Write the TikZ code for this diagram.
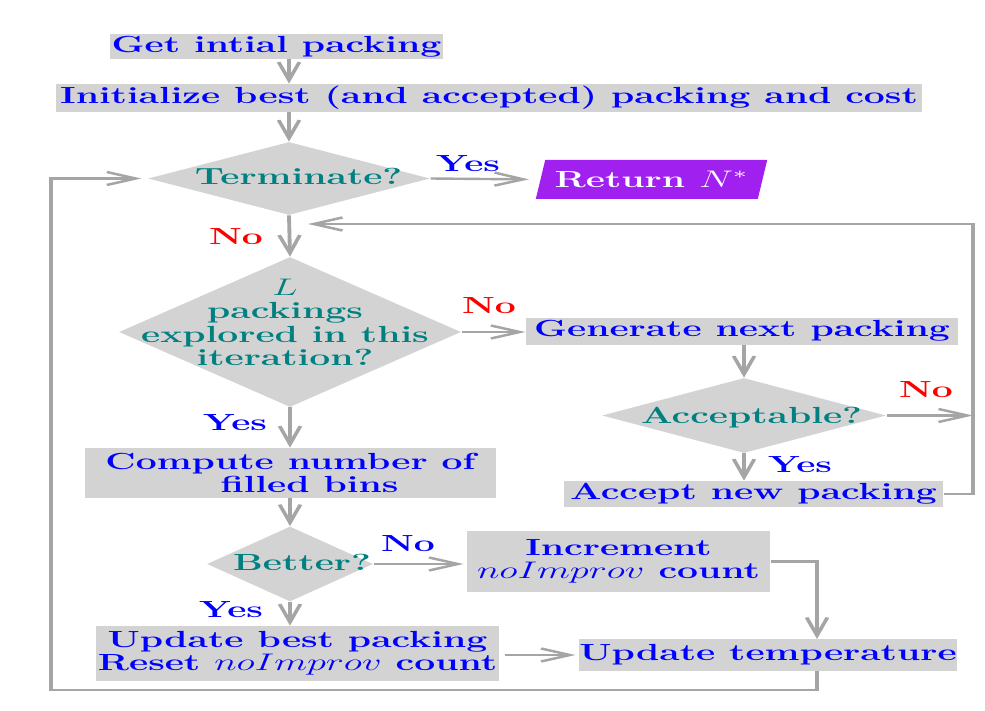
\documentclass[tikz,border=0pt]{standalone}
\usetikzlibrary{shapes.geometric,arrows.meta}
\definecolor{boxgray}{RGB}{211,211,211}
\definecolor{linegray}{RGB}{165,165,165}
\definecolor{retpurple}{RGB}{160,32,240}
\newcommand\chartfont{\fontsize{11.65}{11.65}\selectfont\bfseries}
\tikzset{
  box/.style={rectangle, fill=boxgray, inner sep=0pt, text=blue, font=\chartfont, align=center},
  dia/.style={diamond, fill=boxgray, inner sep=0pt},
  dtext/.style={text=teal, font=\chartfont, align=center, inner sep=0pt},
  yeslbl/.style={text=blue, font=\chartfont, inner sep=0pt, anchor=base},
  nolbl/.style={text=red, font=\chartfont, inner sep=0pt, anchor=base},
  arr/.style={draw=linegray, line width=1.2pt, -{Straight Barb[length=9pt,width=6.5pt]}},
  retbox/.style={trapezium, trapezium left angle=75, trapezium right angle=105,
    trapezium stretches=true, fill=retpurple, text=white, font=\chartfont, inner sep=1pt},
}
\begin{document}
\begin{tikzpicture}
\useasboundingbox (0pt,0pt) rectangle (492.5pt,-355.5pt);
\begin{scope}[x=0.3125pt, y=-0.5pt, transform canvas={xscale=1.6}]
% boxes
\node[box, minimum width=104.06pt, minimum height=12.5pt] (get) at (276.5,46.5) {Get intial packing};
\node[box, minimum width=270.6pt, minimum height=14pt] (init) at (489,98) {Initialize best (and accepted) packing and cost};
\node[dia, minimum width=88.1pt, minimum height=36.5pt] (term) at (289,178.5) {};
\node[dtext, anchor=base] (termtext) at (298.5,185) {Terminate?};
\node[retbox, minimum width=72.8pt, minimum height=19.5pt] (ret) at (651.5,179.5) {Return $N^*$};
\node[dia, minimum width=106.9pt, minimum height=75pt] (L) at (290,332) {};
\node[dtext] (Ltext) at (285,322.3) {$L$\\packings\\explored in this\\iteration?};
\node[box, minimum width=135pt, minimum height=13.5pt] (gen) at (742,331) {Generate next packing};
\node[dia, minimum width=88.75pt, minimum height=37.5pt] (acc) at (744,415.5) {};
\node[dtext, anchor=base] (acctext) at (751.5,423) {Acceptable?};
\node[box, minimum width=118.4pt, minimum height=13pt] (accept) at (753.5,494) {Accept new packing};
\node[box, minimum width=128.4pt, minimum height=25pt] (comp) at (290.5,473) {Compute number of\\\hspace*{11.9pt}filled bins};
\node[dia, minimum width=51.9pt, minimum height=37.5pt] (better) at (290,564) {};
\node[dtext, anchor=base] (bettertext) at (302,570.7) {Better?};
\node[box, minimum width=94.7pt, minimum height=30.5pt] (inc) at (618.5,561.5) {Increment\\$noImprov$ count};
\node[box, minimum width=125.9pt, minimum height=27.5pt] (upd) at (297.5,653.5) {Update best packing\\Reset $noImprov$ count};
\node[box, minimum width=118.1pt, minimum height=16pt] (temp) at (768,655) {Update temperature};
% labels
\node[yeslbl] (y1) at (468,171.7) {Yes};
\node[nolbl] (n1) at (236,245) {No};
\node[nolbl] (n2) at (489,314) {No};
\node[yeslbl] (y2) at (235,430) {Yes};
\node[nolbl] (n3) at (926,397) {No};
\node[yeslbl] (y3) at (800,472) {Yes};
\node[yeslbl] (n4) at (408,551.7) {No};
\node[yeslbl] (y4) at (231,617) {Yes};
% helper coordinates
\coordinate (loopR) at (973,224);
\coordinate (loopTip) at (308,224);
\coordinate (tempTop) at (817,639);
\coordinate (loopBL) at (51,690);
% connectors
\draw[arr] (get.south -| term.north) -- (init.north -| term.north);
\draw[arr] (init.south -| term.north) -- (term.north);
\draw[arr, shorten >=3.4pt] (term.east) -- (ret.west);
\draw[arr] (term.south) -- (L.north);
\draw[arr] (L.east) -- (gen.west |- L.east);
\draw[arr] (gen.south -| acc.north) -- (acc.north);
\draw[arr] (acc.east) -- (acc.east -| loopR);
\draw[arr] (acc.south) -- (accept.north -| acc.south);
\draw[arr] (accept.east) -| (loopR) -- (loopTip);
\draw[arr] (L.south) -- (comp.north -| L.south);
\draw[arr] (comp.south -| better.north) -- (better.north);
\draw[arr, shorten >=0.9pt] (better.east) -- (inc.west |- better.east);
\draw[arr] (better.south) -- (upd.north -| better.south);
\draw[arr, shorten <=1.6pt, shorten >=0.9pt] (upd.east |- temp.west) -- (temp.west);
\draw[arr] (inc.east) -| (tempTop);
\draw[arr, shorten >=1.9pt] (temp.south -| tempTop) |- (loopBL) |- (term.west);
\end{scope}
\end{tikzpicture}
\end{document}
